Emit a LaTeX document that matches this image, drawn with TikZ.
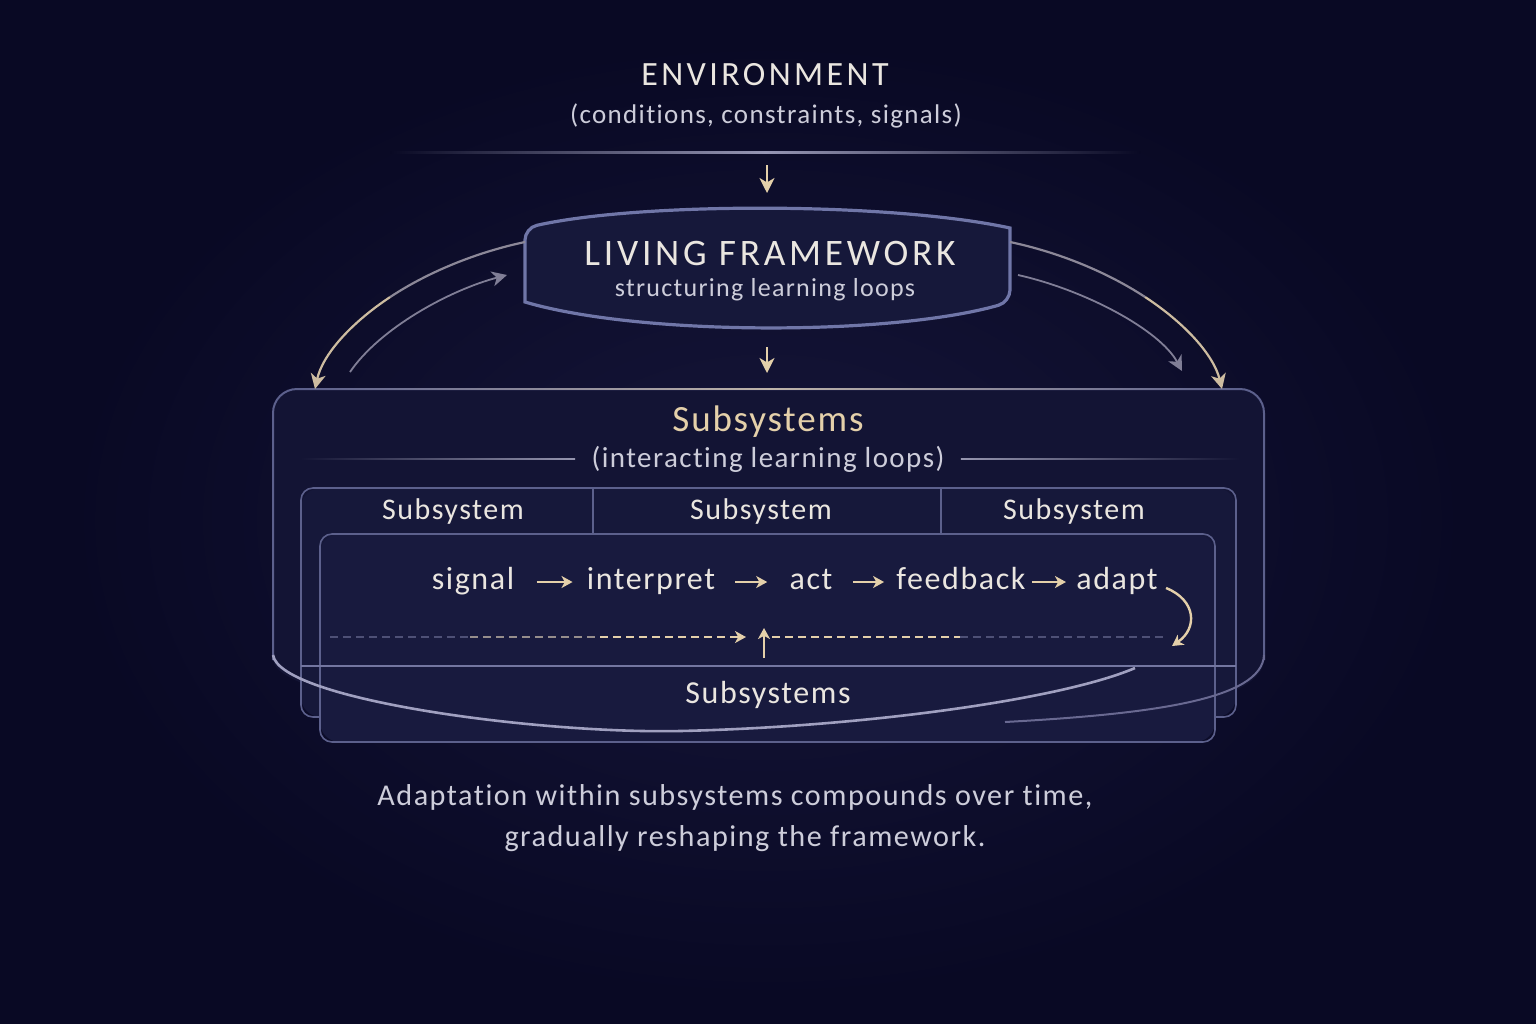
\documentclass[tikz,border=0pt]{standalone}
\usepackage{fontspec}
\setmainfont[Ligatures=NoCommon]{Carlito}
\newfontfamily\capsfont[LetterSpace=10,Ligatures=NoCommon]{Carlito}
\newfontfamily\spfont[LetterSpace=5,Ligatures=NoCommon]{Carlito}
\usetikzlibrary{arrows.meta}
\definecolor{bg}{RGB}{9,9,36}
\definecolor{glow}{RGB}{22,22,58}
\definecolor{bigfill}{RGB}{19,20,52}
\definecolor{midfill}{RGB}{22,24,58}
\definecolor{infill}{RGB}{24,26,62}
\definecolor{bordercol}{RGB}{92,96,140}
\definecolor{fwborder}{RGB}{112,118,168}
\definecolor{tan}{RGB}{228,208,170}
\definecolor{arctan}{RGB}{205,188,160}
\definecolor{arcgrey}{RGB}{140,136,152}
\definecolor{txt}{RGB}{234,230,224}
\definecolor{soft}{RGB}{205,205,218}
\definecolor{greyarrow}{RGB}{128,126,150}
\definecolor{dimdash}{RGB}{78,80,118}
\definecolor{middash}{RGB}{150,142,140}
\definecolor{lavline}{RGB}{160,160,192}
\definecolor{lavdim}{RGB}{105,105,145}
\definecolor{sepline}{RGB}{115,118,160}
\definecolor{hiline}{RGB}{150,150,180}
\definecolor{hiline2}{RGB}{150,150,175}
\definecolor{tophi}{RGB}{190,180,170}
\begin{document}
\begin{tikzpicture}[x=0.5pt,y=-0.5pt,
  lbl/.style={inner sep=0pt, text=txt},
  tip/.style={-{Stealth[length=7.5pt,width=7.5pt,inset=2.2pt]}},
  smalltip/.style={-{Stealth[length=5.5pt,width=6pt,inset=1.6pt]}},
  downar/.style={tip, draw=tan, line width=1.1pt},
  loopar/.style={smalltip, draw=tan, line width=1.2pt},
  panel/.style={draw=bordercol, line width=0.8pt, rounded corners=6pt},
  word/.style={inner sep=0pt, text=txt, font=\spfont\fontsize{16}{18}\selectfont, text height=1.6ex, text depth=0.1ex},
  dashln/.style={dashed, dash pattern=on 4pt off 2.5pt, line width=0.8pt}
]
\useasboundingbox (0,0) rectangle (1536,1024);
\fill[bg] (0,0) rectangle (1536,1024);
\shade[inner color=glow, outer color=bg] (768,520) ellipse [x radius=700, y radius=480];

% environment
\node[lbl, font=\capsfont\fontsize{17}{20}\selectfont] (env) at (765,75) {ENVIRONMENT};
\node[lbl, text=soft, font=\spfont\fontsize{13.5}{16}\selectfont] (envsub) at (766,116) {(conditions, constraints, signals)};
\shade[left color=bg, right color=bg, middle color=hiline] (390,151.5) rectangle (1140,153);

% living framework
\coordinate (fwtop) at (767,193);
\coordinate (envbot) at (767,165);
\fill[midfill, draw=fwborder, line width=1.6pt, rounded corners=6pt]
  (525,302) -- (525,228) [sharp corners] .. controls (640,202) and (890,202) .. (1010,228) [rounded corners=6pt]
  -- (1010,302) [sharp corners] .. controls (890,336) and (640,336) .. (525,302) -- cycle;
\node[lbl, font=\capsfont\fontsize{18.7}{22}\selectfont] (fw) at (770,253) {LIVING FRAMEWORK};
\node[lbl, text=soft, font=\spfont\fontsize{13}{15}\selectfont] (fwsub) at (765,290) {structuring learning loops};
\draw[downar] (envbot) -- (fwtop);
\coordinate (fwbot) at (767,347);
\coordinate (subtop) at (767,373);
\draw[downar] (fwbot) -- (subtop);

% big subsystems panel
\coordinate (fwL) at (525,242);
\coordinate (fwLin) at (507,275);
\coordinate (fwR) at (1010,242);
\coordinate (fwRin) at (1018,275);
\coordinate (bigL) at (315,389);
\coordinate (bigLin) at (350,372);
\coordinate (bigR) at (1222,389);
\coordinate (bigRin) at (1182,371);
\coordinate (midL) at (390,297.125);
\coordinate (midR) at (1145.25,297.125);

\fill[bigfill] (273,660) -- (273,400) [rounded corners=12pt] -- (273,389) -- (1264,389) [sharp corners] -- (1264,660)
  .. controls (1262,700) and (1150,720) .. (1005,722) -- (680,731) .. controls (520,735) and (278,700) .. (273,660);
\draw[bordercol, line width=1pt, rounded corners=12pt] (273,660) -- (273,389) -- (1264,389) -- (1264,660);
\shade[left color=bordercol, right color=bordercol, middle color=tophi] (300,388.2) rectangle (1240,389.8);

\node[lbl, text=tan, font=\spfont\fontsize{18.5}{22}\selectfont] (subs) at (768,422) {Subsystems};
\node[lbl, text=soft, font=\spfont\fontsize{14.5}{17}\selectfont] (subsub) at (768,459) {(interacting learning loops)};
\shade[left color=bigfill, right color=hiline2] (300,458.4) rectangle ([xshift=-8]subsub.west |- 0,459.6);
\shade[right color=bigfill, left color=hiline2] ([xshift=8]subsub.east |- 0,458.4) rectangle (1240,459.6);

% middle panel
\fill[midfill] (301,717) [rounded corners=10pt] -- (301,488) -- (1236,488) -- (1236,717) -- cycle;
\draw[panel] (301,717) -- (301,488) -- (1236,488) -- (1236,717) -- cycle;
\draw[bordercol, line width=0.7pt] (593,489) -- (593,533);
\draw[bordercol, line width=0.7pt] (941,489) -- (941,533);
\node[lbl, font=\spfont\fontsize{15}{17}\selectfont] (h1) at (453,511) {Subsystem};
\node[lbl, font=\spfont\fontsize{15}{17}\selectfont] (h2) at (761,511) {Subsystem};
\node[lbl, font=\spfont\fontsize{15}{17}\selectfont] (h3) at (1074,511) {Subsystem};

% inner panel
\fill[infill, rounded corners=10pt] (320,534) rectangle (1215,742);
\draw[panel] (320,534) rectangle (1215,742);
\draw[sepline, line width=1pt] (301,666) -- (1236,666);

% loop row
\node[word] (sig) at (473,582) {signal};
\node[word] (int) at (651,582) {interpret};
\node[word] (act) at (811,582) {act};
\node[word] (fb) at (961,582) {feedback};
\node[word] (adp) at (1117,582) {adapt};
\draw[loopar, shorten <=11pt, shorten >=7pt] (sig.east) -- (int.west);
\draw[loopar, shorten <=10pt, shorten >=11pt] (int.east) -- (act.west);
\draw[loopar, shorten <=10pt, shorten >=6pt] (act.east) -- (fb.west);
\draw[loopar, shorten <=3pt, shorten >=5pt] (fb.east) -- (adp.west);
\coordinate (turn) at (1172,646);
\draw[loopar] ([xshift=4pt,yshift=-3pt]adp.east) .. controls (1196,600) and (1198,628) .. (turn);

% dashed return
\coordinate (dA) at (330,637);
\coordinate (dB) at (470,637);
\coordinate (dC) at (600,637);
\coordinate (dD) at (746,637);
\draw[dimdash, dashln] (dA) -- (dB);
\draw[middash, dashln] (dB) -- (dC);
\draw[tan, dashln, smalltip] (dC) -- (dD);
\coordinate (eA) at (772,637);
\coordinate (eB) at (960,637);
\coordinate (eC) at (1165,637);
\draw[tan, dashln] (eA) -- (eB);
\draw[dimdash, dashln] (eB) -- (eC);
\coordinate (upA) at (764,658);
\coordinate (upB) at (764,628);
\draw[loopar] (upA) -- (upB);

\node[lbl, font=\spfont\fontsize{16}{18}\selectfont] (bsubs) at (768,695) {Subsystems};

% bottom sweeping curves
\draw[lavline, line width=1.3pt] (273,655) .. controls (280,700) and (540,734) .. (680,731)
  .. controls (860,727) and (1060,700) .. (1135,668);
\draw[lavdim, line width=1pt] (1264,655) .. controls (1262,700) and (1150,714) .. (1005,722);

% side arcs (outer: grey near the framework, tan near the tip)
\draw[arcgrey, line width=1.1pt] (fwL) .. controls (477.5,252) and (428.75,271.5) .. (midL);
\draw[tip, draw=arctan, line width=1.1pt] (midL) .. controls (351.25,322.75) and (322.5,354.5) .. (bigL);
\draw[tip, draw=greyarrow, line width=0.9pt] (bigLin) .. controls (380,328) and (450,290) .. (fwLin);
\draw[arcgrey, line width=1.1pt] (fwR) .. controls (1057.5,252) and (1106.25,271.5) .. (midR);
\draw[tip, draw=arctan, line width=1.1pt] (midR) .. controls (1184.25,322.75) and (1213.5,354.5) .. (bigR);
\draw[tip, draw=greyarrow, line width=0.9pt] (fwRin) .. controls (1085,290) and (1160,330) .. (bigRin);

% caption
\node[lbl, text=soft, font=\spfont\fontsize{15.1}{18}\selectfont] (cap1) at (735,797) {Adaptation within subsystems compounds over time,};
\node[lbl, text=soft, font=\spfont\fontsize{15.1}{18}\selectfont] (cap2) at (745,839) {gradually reshaping the framework.};
\end{tikzpicture}
\end{document}
